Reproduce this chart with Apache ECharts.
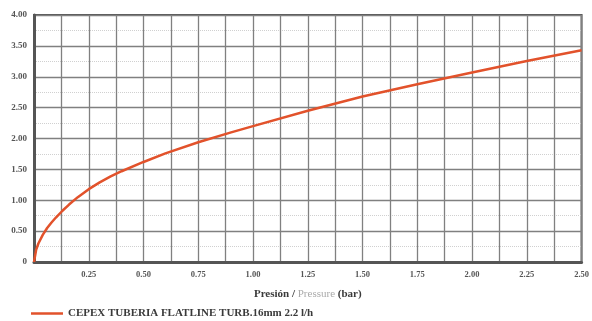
<!DOCTYPE html>
<html>
<head>
<meta charset="utf-8">
<script src="https://cdn.jsdelivr.net/npm/echarts@6/dist/echarts.min.js"></script>
<style>html,body{margin:0;padding:0;background:#fff}#c{width:592px;height:321px}</style>
</head>
<body>
<div id="c"></div>
<script>
var pressure = [0, 0.01, 0.02, 0.04, 0.06, 0.08, 0.1, 0.13, 0.16, 0.2, 0.25, 0.3, 0.35, 0.4, 0.5, 0.6, 0.75, 0.9, 1.0, 1.25, 1.5, 1.75, 2.0, 2.25, 2.5];
var flow     = [0, 0.2, 0.3, 0.44, 0.55, 0.64, 0.72, 0.83, 0.93, 1.05, 1.18, 1.29, 1.385, 1.47, 1.62, 1.76, 1.94, 2.1, 2.2, 2.45, 2.68, 2.88, 3.07, 3.255, 3.43];
var seriesName = 'CEPEX TUBERIA FLATLINE TURB.16mm 2.2 l/h';
var xTickLabels = ['0.25','0.50','0.75','1.00','1.25','1.50','1.75','2.00','2.25','2.50'];
var yTickLabels = ['0','0.50','1.00','1.50','2.00','2.50','3.00','3.50','4.00'];

var data = pressure.map(function(p,i){return [p, flow[i]];});
var font = 'Liberation Serif';
var chart = echarts.init(document.getElementById('c'));
chart.setOption({
  backgroundColor:'#fff',
  animation:false,
  grid:{left:34, right:6, top:15, bottom:59, show:true, borderColor:'#555', borderWidth:2},
  legend:{
    left:26, top:303, itemWidth:32, itemHeight:8, itemGap:6,
    icon:'path://M0,3L32,3L32,5.5L0,5.5Z',
    textStyle:{fontFamily:font, fontWeight:'bold', fontSize:11, color:'#3a3a3a'},
    data:[seriesName]
  },
  xAxis:{
    type:'value', min:0, max:2.5, interval:0.125,
    name:'{a|Presión / }{b|Pressure}{a| (bar)}', nameLocation:'middle', nameGap:27,
    nameTextStyle:{rich:{
      a:{fontFamily:font, fontWeight:'bold', fontSize:11, color:'#3a3a3a'},
      b:{fontFamily:font, fontSize:11, color:'#aaaaaa'}
    }},
    axisLine:{lineStyle:{color:'#555', width:3}},
    axisTick:{show:false},
    splitLine:{lineStyle:{color:'#808080', width:1.3}},
    axisLabel:{
      fontFamily:font, fontWeight:'bold', fontSize:8.5, color:'#555', margin:8,
      formatter:function(v){
        var k = Math.round(v/0.25*1000)/1000;
        if (v===0 || Math.abs(k-Math.round(k))>1e-6) return '';
        return xTickLabels[Math.round(k)-1];
      }
    }
  },
  yAxis:{
    type:'value', min:0, max:4, interval:0.5,
    axisLine:{lineStyle:{color:'#555', width:3}},
    axisTick:{show:false},
    splitLine:{lineStyle:{color:'#808080', width:1.3}},
    minorTick:{show:false, splitNumber:2},
    minorSplitLine:{show:true, lineStyle:{color:'#d0d0d0', type:'dotted', width:1}},
    axisLabel:{
      fontFamily:font, fontWeight:'bold', fontSize:9, color:'#555', margin:7,
      formatter:function(v){ return yTickLabels[Math.round(v/0.5)]; }
    }
  },
  series:[{
    name:seriesName, type:'line', data:data, smooth:false, showSymbol:false,
    lineStyle:{color:'#e2522b', width:2.5, join:'round'}, itemStyle:{color:'#e2522b'}
  }]
});
</script>
</body>
</html>
